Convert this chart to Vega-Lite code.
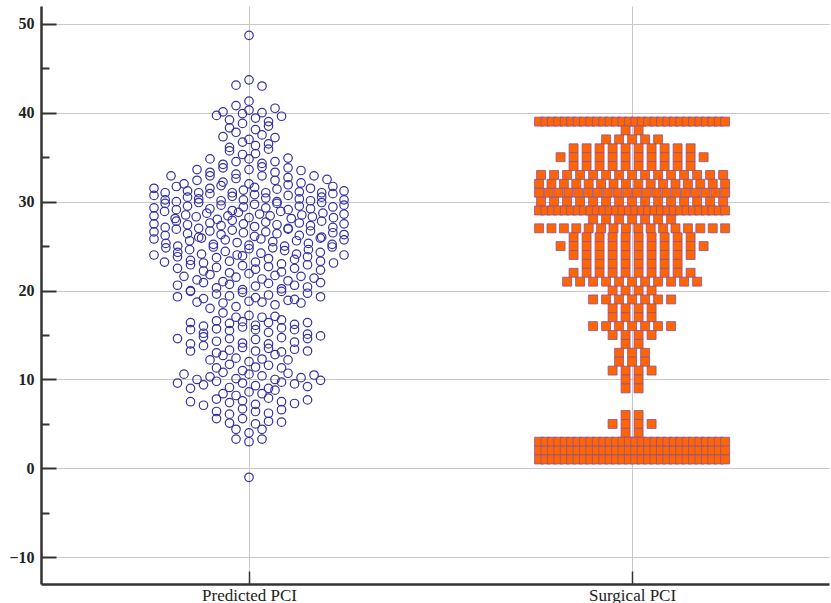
{
  "$schema": "https://vega.github.io/schema/vega-lite/v6.json",
  "width": 788,
  "height": 578,
  "autosize": "none",
  "padding": {"left": 41, "top": 6, "right": 2, "bottom": 19},
  "background": "white",
  "config": {"view": {"stroke": null}, "font": "Liberation Serif"},
  "datasets": {
    "predicted": [
      {"pci":48.7},
      {"pci":43.1},{"pci":43.7},{"pci":43.0},
      {"pci":41.3},
      {"pci":40.1},{"pci":40.8},{"pci":40.3},{"pci":40.0},{"pci":40.5},
      {"pci":39.7},{"pci":39.2},{"pci":39.9},{"pci":39.4},{"pci":39.0},{"pci":39.6},
      {"pci":38.3},{"pci":38.8},{"pci":38.1},{"pci":38.5},
      {"pci":37.3},{"pci":37.8},{"pci":37.0},{"pci":37.5},{"pci":37.2},
      {"pci":36.1},{"pci":36.7},{"pci":36.3},{"pci":36.5},
      {"pci":35.7},{"pci":35.3},{"pci":35.4},{"pci":35.9},
      {"pci":34.8},{"pci":34.2},{"pci":34.5},{"pci":34.8},{"pci":34.3},{"pci":34.5},{"pci":34.9},
      {"pci":33.6},{"pci":33.3},{"pci":33.8},{"pci":33.1},{"pci":33.6},{"pci":33.9},{"pci":33.3},{"pci":33.8},{"pci":33.5},
      {"pci":32.9},{"pci":32.0},{"pci":32.4},{"pci":32.9},{"pci":32.2},{"pci":32.6},{"pci":32.0},{"pci":32.9},{"pci":32.4},{"pci":32.7},{"pci":32.1},{"pci":32.9},{"pci":32.5},
      {"pci":31.5},{"pci":31.0},{"pci":31.7},{"pci":31.2},{"pci":31.0},{"pci":31.5},{"pci":31.8},{"pci":31.0},{"pci":31.3},{"pci":31.6},{"pci":31.0},{"pci":31.4},{"pci":31.9},{"pci":31.1},{"pci":31.5},{"pci":31.0},{"pci":31.7},{"pci":31.2},
      {"pci":30.7},{"pci":30.2},{"pci":30.0},{"pci":30.5},{"pci":30.3},{"pci":30.9},{"pci":30.1},{"pci":30.6},{"pci":30.2},{"pci":30.8},{"pci":30.4},{"pci":30.0},{"pci":30.7},{"pci":30.3},{"pci":30.1},{"pci":30.5},{"pci":30.9},{"pci":30.2},
      {"pci":29.3},{"pci":29.8},{"pci":29.1},{"pci":29.5},{"pci":29.9},{"pci":29.2},{"pci":29.6},{"pci":29.0},{"pci":29.4},{"pci":29.7},{"pci":29.3},{"pci":29.8},{"pci":29.1},{"pci":29.5},{"pci":29.2},{"pci":29.9},{"pci":29.4},{"pci":29.6},
      {"pci":28.4},{"pci":28.9},{"pci":28.1},{"pci":28.5},{"pci":28.3},{"pci":28.7},{"pci":28.0},{"pci":28.4},{"pci":28.8},{"pci":28.2},{"pci":28.6},{"pci":28.4},{"pci":28.9},{"pci":28.1},{"pci":28.5},{"pci":28.3},{"pci":28.7},{"pci":28.2},{"pci":28.6},
      {"pci":27.5},{"pci":27.1},{"pci":27.8},{"pci":27.4},{"pci":27.0},{"pci":27.6},{"pci":27.3},{"pci":27.9},{"pci":27.5},{"pci":27.2},{"pci":27.7},{"pci":27.4},{"pci":27.0},{"pci":27.6},{"pci":27.3},{"pci":27.8},{"pci":27.1},{"pci":27.5},
      {"pci":26.6},{"pci":26.2},{"pci":26.9},{"pci":26.4},{"pci":26.0},{"pci":26.7},{"pci":26.3},{"pci":26.8},{"pci":26.5},{"pci":26.1},{"pci":26.6},{"pci":26.4},{"pci":26.9},{"pci":26.2},{"pci":26.7},{"pci":26.0},{"pci":26.5},{"pci":26.3},
      {"pci":25.8},{"pci":25.3},{"pci":25.0},{"pci":25.6},{"pci":25.9},{"pci":25.2},{"pci":25.7},{"pci":25.4},{"pci":25.1},{"pci":25.8},{"pci":25.5},{"pci":25.0},{"pci":25.6},{"pci":25.3},{"pci":25.9},{"pci":25.2},{"pci":25.7},
      {"pci":24.0},{"pci":24.8},{"pci":24.3},{"pci":24.6},{"pci":24.1},{"pci":24.9},{"pci":24.4},{"pci":24.0},{"pci":24.7},{"pci":24.2},{"pci":24.8},{"pci":24.5},{"pci":24.1},{"pci":24.6},{"pci":24.3},{"pci":24.9},{"pci":24.0},
      {"pci":23.2},{"pci":23.8},{"pci":23.4},{"pci":23.1},{"pci":23.7},{"pci":23.3},{"pci":23.9},{"pci":23.2},{"pci":23.6},{"pci":23.0},{"pci":23.5},{"pci":23.8},{"pci":23.3},{"pci":23.1},
      {"pci":22.5},{"pci":22.9},{"pci":22.2},{"pci":22.6},{"pci":22.0},{"pci":22.8},{"pci":22.4},{"pci":22.7},{"pci":22.1},{"pci":22.5},{"pci":22.9},{"pci":22.3},
      {"pci":21.6},{"pci":21.2},{"pci":21.8},{"pci":21.0},{"pci":21.5},{"pci":21.9},{"pci":21.3},{"pci":21.7},{"pci":21.1},{"pci":21.6},{"pci":21.4},
      {"pci":20.6},{"pci":20.0},{"pci":20.9},{"pci":20.3},{"pci":20.7},{"pci":20.1},{"pci":20.5},{"pci":20.8},{"pci":20.2},{"pci":20.6},{"pci":20.4},{"pci":20.9},
      {"pci":19.3},{"pci":19.9},{"pci":19.1},{"pci":19.6},{"pci":19.4},{"pci":19.8},{"pci":19.2},{"pci":19.5},{"pci":19.9},{"pci":19.0},{"pci":19.7},{"pci":19.3},
      {"pci":18.7},{"pci":18.0},{"pci":18.6},{"pci":18.2},{"pci":18.8},{"pci":18.7},{"pci":18.4},{"pci":18.9},{"pci":18.6},
      {"pci":17.5},{"pci":17.0},{"pci":17.2},{"pci":17.0},{"pci":17.1},
      {"pci":16.4},{"pci":16.0},{"pci":16.6},{"pci":16.3},{"pci":16.5},{"pci":16.1},{"pci":16.4},{"pci":16.7},{"pci":16.2},{"pci":16.4},
      {"pci":15.6},{"pci":15.2},{"pci":15.7},{"pci":15.5},{"pci":15.9},{"pci":15.6},{"pci":15.3},{"pci":15.8},{"pci":15.6},{"pci":15.1},
      {"pci":14.6},{"pci":14.0},{"pci":14.8},{"pci":14.3},{"pci":14.6},{"pci":14.1},{"pci":14.5},{"pci":14.0},{"pci":14.7},{"pci":14.2},{"pci":14.6},{"pci":14.9},
      {"pci":13.2},{"pci":13.8},{"pci":13.0},{"pci":13.3},{"pci":13.6},{"pci":13.2},{"pci":13.5},{"pci":13.1},{"pci":13.4},{"pci":13.2},
      {"pci":12.2},{"pci":12.7},{"pci":12.4},{"pci":12.0},{"pci":12.3},{"pci":12.8},{"pci":12.2},
      {"pci":11.3},{"pci":11.7},{"pci":11.0},{"pci":11.4},{"pci":11.6},{"pci":11.3},
      {"pci":10.6},{"pci":10.0},{"pci":10.3},{"pci":10.8},{"pci":10.1},{"pci":10.6},{"pci":10.4},{"pci":10.0},{"pci":10.7},{"pci":10.2},{"pci":10.5},
      {"pci":9.6},{"pci":9.0},{"pci":9.4},{"pci":9.8},{"pci":9.1},{"pci":9.6},{"pci":9.3},{"pci":9.0},{"pci":9.7},{"pci":9.5},{"pci":9.2},{"pci":9.9},
      {"pci":8.4},{"pci":8.2},{"pci":8.6},{"pci":8.4},{"pci":8.8},
      {"pci":7.5},{"pci":7.1},{"pci":7.8},{"pci":7.4},{"pci":7.6},{"pci":7.2},{"pci":7.9},{"pci":7.5},{"pci":7.3},{"pci":7.7},
      {"pci":6.4},{"pci":6.1},{"pci":6.7},{"pci":6.4},{"pci":6.2},{"pci":6.6},
      {"pci":5.6},{"pci":5.1},{"pci":5.6},{"pci":5.0},{"pci":5.3},{"pci":5.2},
      {"pci":4.4},{"pci":4.0},{"pci":4.4},
      {"pci":3.3},{"pci":3.0},{"pci":3.3},
      {"pci":-1.0}
    ],
    "surgical": [
      {"pci":39},{"pci":39},{"pci":39},{"pci":39},{"pci":39},{"pci":39},{"pci":39},{"pci":39},{"pci":39},{"pci":39},
      {"pci":39},{"pci":39},{"pci":39},{"pci":39},{"pci":39},{"pci":39},{"pci":39},{"pci":39},{"pci":39},{"pci":39},
      {"pci":39},{"pci":39},{"pci":39},{"pci":39},{"pci":39},{"pci":39},{"pci":39},{"pci":39},{"pci":39},{"pci":39},
      {"pci":38},{"pci":38},
      {"pci":37},{"pci":37},{"pci":37},{"pci":37},{"pci":37},
      {"pci":36},{"pci":36},{"pci":36},{"pci":36},{"pci":36},{"pci":36},{"pci":36},{"pci":36},{"pci":36},{"pci":36},
      {"pci":35},{"pci":35},{"pci":35},{"pci":35},{"pci":35},{"pci":35},{"pci":35},{"pci":35},{"pci":35},{"pci":35},{"pci":35},{"pci":35},
      {"pci":34},{"pci":34},{"pci":34},{"pci":34},{"pci":34},{"pci":34},{"pci":34},{"pci":34},{"pci":34},{"pci":34},
      {"pci":33},{"pci":33},{"pci":33},{"pci":33},{"pci":33},{"pci":33},{"pci":33},{"pci":33},{"pci":33},{"pci":33},{"pci":33},{"pci":33},{"pci":33},{"pci":33},{"pci":33},
      {"pci":32},{"pci":32},{"pci":32},{"pci":32},{"pci":32},{"pci":32},{"pci":32},{"pci":32},{"pci":32},{"pci":32},{"pci":32},{"pci":32},{"pci":32},{"pci":32},{"pci":32},{"pci":32},
      {"pci":31},{"pci":31},{"pci":31},{"pci":31},{"pci":31},{"pci":31},{"pci":31},{"pci":31},{"pci":31},{"pci":31},
      {"pci":31},{"pci":31},{"pci":31},{"pci":31},{"pci":31},{"pci":31},{"pci":31},{"pci":31},{"pci":31},{"pci":31},
      {"pci":30},{"pci":30},{"pci":30},{"pci":30},{"pci":30},{"pci":30},{"pci":30},{"pci":30},{"pci":30},{"pci":30},{"pci":30},{"pci":30},{"pci":30},{"pci":30},{"pci":30},
      {"pci":29},{"pci":29},{"pci":29},{"pci":29},{"pci":29},{"pci":29},{"pci":29},{"pci":29},{"pci":29},{"pci":29},
      {"pci":29},{"pci":29},{"pci":29},{"pci":29},{"pci":29},{"pci":29},{"pci":29},{"pci":29},{"pci":29},{"pci":29},
      {"pci":29},{"pci":29},{"pci":29},{"pci":29},{"pci":29},{"pci":29},{"pci":29},{"pci":29},{"pci":29},{"pci":29},
      {"pci":28},{"pci":28},{"pci":28},{"pci":28},{"pci":28},{"pci":28},{"pci":28},
      {"pci":27},{"pci":27},{"pci":27},{"pci":27},{"pci":27},{"pci":27},{"pci":27},{"pci":27},{"pci":27},{"pci":27},{"pci":27},{"pci":27},{"pci":27},{"pci":27},{"pci":27},{"pci":27},
      {"pci":26},{"pci":26},{"pci":26},{"pci":26},{"pci":26},{"pci":26},{"pci":26},{"pci":26},{"pci":26},{"pci":26},
      {"pci":25},{"pci":25},{"pci":25},{"pci":25},{"pci":25},{"pci":25},{"pci":25},{"pci":25},{"pci":25},{"pci":25},{"pci":25},{"pci":25},
      {"pci":24},{"pci":24},{"pci":24},{"pci":24},{"pci":24},{"pci":24},{"pci":24},{"pci":24},{"pci":24},{"pci":24},
      {"pci":23},{"pci":23},{"pci":23},{"pci":23},{"pci":23},{"pci":23},{"pci":23},{"pci":23},
      {"pci":22},{"pci":22},{"pci":22},{"pci":22},{"pci":22},{"pci":22},{"pci":22},{"pci":22},{"pci":22},{"pci":22},
      {"pci":21},{"pci":21},{"pci":21},{"pci":21},{"pci":21},{"pci":21},{"pci":21},{"pci":21},{"pci":21},{"pci":21},{"pci":21},
      {"pci":20},{"pci":20},{"pci":20},{"pci":20},
      {"pci":19},{"pci":19},{"pci":19},{"pci":19},{"pci":19},{"pci":19},{"pci":19},
      {"pci":18},{"pci":18},{"pci":18},{"pci":18},
      {"pci":17},{"pci":17},{"pci":17},{"pci":17},
      {"pci":16},{"pci":16},{"pci":16},{"pci":16},{"pci":16},{"pci":16},{"pci":16},
      {"pci":15},{"pci":15},{"pci":15},{"pci":15},
      {"pci":14},{"pci":14},
      {"pci":13},{"pci":13},{"pci":13},
      {"pci":12},{"pci":12},{"pci":12},
      {"pci":11},{"pci":11},{"pci":11},{"pci":11},
      {"pci":10},{"pci":10},
      {"pci":9},{"pci":9},
      {"pci":6},{"pci":6},
      {"pci":5},{"pci":5},{"pci":5},{"pci":5},
      {"pci":4},{"pci":4},
      {"pci":3},{"pci":3},{"pci":3},{"pci":3},{"pci":3},{"pci":3},{"pci":3},{"pci":3},{"pci":3},{"pci":3},
      {"pci":3},{"pci":3},{"pci":3},{"pci":3},{"pci":3},{"pci":3},{"pci":3},{"pci":3},{"pci":3},{"pci":3},
      {"pci":3},{"pci":3},{"pci":3},{"pci":3},{"pci":3},{"pci":3},{"pci":3},{"pci":3},{"pci":3},{"pci":3},
      {"pci":2},{"pci":2},{"pci":2},{"pci":2},{"pci":2},{"pci":2},{"pci":2},{"pci":2},{"pci":2},{"pci":2},
      {"pci":2},{"pci":2},{"pci":2},{"pci":2},{"pci":2},{"pci":2},{"pci":2},{"pci":2},{"pci":2},{"pci":2},
      {"pci":2},{"pci":2},{"pci":2},{"pci":2},{"pci":2},{"pci":2},{"pci":2},{"pci":2},{"pci":2},{"pci":2},
      {"pci":1},{"pci":1},{"pci":1},{"pci":1},{"pci":1},{"pci":1},{"pci":1},{"pci":1},{"pci":1},{"pci":1},
      {"pci":1},{"pci":1},{"pci":1},{"pci":1},{"pci":1},{"pci":1},{"pci":1},{"pci":1},{"pci":1},{"pci":1},
      {"pci":1},{"pci":1},{"pci":1},{"pci":1},{"pci":1},{"pci":1},{"pci":1},{"pci":1},{"pci":1},{"pci":1}
    ]
  },
  "encoding": {
    "x": {
      "field": "xp",
      "type": "quantitative",
      "scale": {"domain": [-0.543, 1.514], "nice": false, "zero": false},
      "axis": {
        "title": null,
        "values": [0, 1],
        "labelExpr": "datum.value === 0 ? 'Predicted PCI' : 'Surgical PCI'",
        "tickSize": -13,
        "tickColor": "#333333",
        "tickWidth": 1.5,
        "grid": true,
        "gridColor": "#c8c8c8",
        "gridWidth": 1,
        "domainColor": "#333333",
        "domainWidth": 2.5,
        "labelFont": "Liberation Serif",
        "labelFontSize": 17,
        "labelColor": "#222222",
        "labelPadding": 16
      }
    },
    "y": {
      "field": "pci",
      "type": "quantitative",
      "scale": {"domain": [-13, 52], "nice": false, "zero": false},
      "axis": {
        "title": null,
        "values": [-10, -5, 0, 5, 10, 15, 20, 25, 30, 35, 40, 45, 50],
        "labelExpr": "datum.value % 10 === 0 ? datum.label : ''",
        "tickSize": {"condition": {"test": "datum.value % 10 === 0", "value": -15}, "value": -8},
        "tickColor": "#333333",
        "tickWidth": 2,
        "grid": true,
        "gridColor": "#c8c8c8",
        "gridWidth": 1,
        "gridOpacity": {"condition": {"test": "datum.value % 10 === 0", "value": 1}, "value": 0},
        "domainColor": "#333333",
        "domainWidth": 2.5,
        "labelFont": "Liberation Serif",
        "labelFontSize": 16,
        "labelFontWeight": "bold",
        "labelColor": "#222222",
        "labelPadding": 22
      }
    }
  },
  "layer": [
    {
      "data": {"name": "predicted"},
      "transform": [
        {"calculate": "floor(datum.pci)", "as": "row"},
        {"window": [{"op": "row_number", "as": "r"}, {"op": "count", "as": "n"}], "groupby": ["row"], "frame": [null, null]},
        {"calculate": "min(13, 190 / max(datum.n - 1, 1))", "as": "sp"},
        {"calculate": "((datum.r - 1) - (datum.n - 1) / 2) * datum.sp / 383", "as": "xp"}
      ],
      "mark": {"type": "point", "shape": "circle", "filled": false, "color": "#3232a3", "strokeWidth": 1.2, "size": 72, "opacity": 1}
    },
    {
      "data": {"name": "surgical"},
      "transform": [
        {"window": [{"op": "row_number", "as": "r"}, {"op": "count", "as": "n"}], "groupby": ["pci"], "frame": [null, null]},
        {"calculate": "min(13, 186 / max(datum.n - 1, 1))", "as": "sp"},
        {"calculate": "1 + ((datum.r - 1) - (datum.n - 1) / 2) * datum.sp / 383", "as": "xp"}
      ],
      "mark": {"type": "square", "filled": true, "fill": "#ff6600", "stroke": "#8e4e9e", "strokeWidth": 0.8, "size": 80, "opacity": 1}
    }
  ]
}
